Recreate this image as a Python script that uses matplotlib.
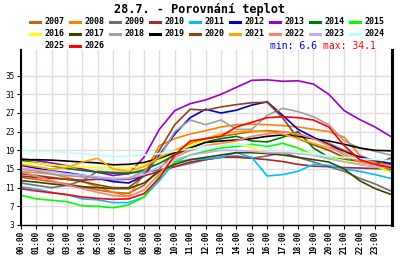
import numpy as np
import matplotlib
matplotlib.use("Agg")
import matplotlib.pyplot as plt
from matplotlib.lines import Line2D

hours = list(range(25))
tick_hours = list(range(24))
tick_labels = [f"{h:02d}:00" for h in tick_hours]
y_ticks = [3, 7, 11, 15, 19, 23, 27, 31, 35]

years = ["2007", "2008", "2009", "2010", "2011", "2012", "2013", "2014", "2015",
         "2016", "2017", "2018", "2019", "2020", "2021", "2022", "2023", "2024",
         "2025", "2026"]
colors = ["#c0651c", "#ff8000", "#707070", "#a52a2a", "#00bfff", "#0000cc",
          "#9900cc", "#007700", "#00ff00", "#ffff00", "#404000", "#a0a0a0",
          "#000000", "#8b4513", "#ffa500", "#ff7f66", "#c0a8ff", "#bbffff",
          "#ffffff", "#ff0000"]

t2007 = [13.2, 12.8, 12.3, 11.8, 11.2, 10.5, 10.0, 9.8, 11.5, 15.0, 18.5, 20.5, 21.5, 22.0, 22.5, 23.0, 23.2, 23.0, 22.5, 21.5, 20.5, 19.0, 17.5, 16.5, 16.0]
t2008 = [15.0, 14.6, 14.0, 13.2, 12.3, 11.2, 10.0, 9.2, 14.0, 20.0, 21.5, 22.5, 23.2, 24.0, 24.5, 24.6, 24.5, 24.3, 24.0, 23.5, 23.0, 21.8, 18.0, 16.5, 15.5]
t2009 = [12.0, 11.5, 11.0, 11.5, 12.5, 14.5, 14.3, 14.2, 14.3, 14.8, 15.5, 16.2, 17.0, 17.5, 17.8, 17.3, 17.8, 18.5, 17.5, 16.5, 15.5, 14.5, 13.0, 11.8, 10.3]
t2010 = [13.5, 13.2, 13.0, 12.8, 12.6, 12.8, 12.7, 12.8, 13.5, 14.5, 15.5, 16.5, 17.0, 17.5, 17.5, 17.3, 17.0, 16.6, 16.0, 15.6, 15.5, 15.3, 15.2, 15.1, 15.0]
t2011 = [11.2, 10.7, 10.0, 9.5, 8.6, 8.4, 7.8, 7.8, 9.0, 12.5, 16.5, 17.0, 17.2, 17.5, 18.5, 17.5, 13.5, 13.8, 14.5, 16.0, 15.8, 15.0, 14.5, 13.8, 13.0]
t2012 = [15.8, 15.2, 14.6, 14.2, 13.7, 13.0, 12.3, 12.0, 13.5, 18.0, 22.5, 26.0, 27.8, 27.0, 27.6, 28.7, 29.4, 26.5, 23.5, 21.8, 20.2, 18.7, 17.6, 16.8, 16.2]
t2013 = [17.2, 16.8, 16.3, 15.7, 15.0, 14.3, 13.6, 14.0, 17.5, 23.5, 27.5, 29.0, 29.8, 31.0, 32.5, 34.0, 34.1, 33.8, 33.9, 33.2, 31.0, 27.5, 25.6, 24.0, 22.0]
t2014 = [16.8, 16.3, 15.7, 15.1, 14.7, 14.3, 14.1, 14.0, 14.8, 16.2, 18.0, 19.5, 20.8, 21.5, 22.0, 21.0, 20.8, 21.8, 23.0, 19.5, 17.5, 17.0, 16.5, 15.8, 15.2]
t2015 = [9.4, 8.6, 8.3, 8.0, 7.1, 7.0, 6.7, 7.3, 9.0, 13.5, 16.5, 18.0, 18.8, 19.5, 19.8, 20.3, 19.8, 20.5, 19.5, 18.0, 17.2, 16.6, 16.0, 15.5, 14.5]
t2016 = [16.5, 16.2, 15.8, 15.6, 15.4, 15.3, 15.2, 15.2, 15.8, 17.0, 18.5, 20.0, 21.0, 20.0, 20.5, 19.5, 18.5, 18.5, 18.8, 18.3, 17.5, 16.8, 16.3, 15.8, 14.3]
t2017 = [12.5, 12.2, 11.8, 11.5, 11.2, 11.0, 10.8, 10.8, 12.0, 14.5, 16.0, 17.0, 17.5, 18.0, 18.5, 18.5, 18.3, 18.0, 17.5, 17.0, 16.5, 15.0, 12.5, 10.8, 9.6]
t2018 = [14.5, 14.2, 13.9, 13.6, 13.3, 13.0, 12.8, 13.0, 14.5, 17.5, 23.0, 25.5, 24.5, 25.5, 23.5, 23.5, 26.5, 28.0, 27.3, 26.2, 24.5, 21.0, 19.5, 18.8, 18.0]
t2019 = [17.0, 17.0, 16.9, 16.7, 16.5, 16.3, 15.9, 16.0, 16.4, 17.3, 18.5, 19.5, 20.7, 21.0, 21.2, 21.5, 22.0, 22.3, 22.0, 21.5, 21.0, 20.3, 19.5, 19.0, 18.9]
t2020 = [14.0, 13.6, 13.2, 12.8, 12.3, 11.6, 11.0, 11.0, 13.5, 19.0, 24.5, 27.8, 27.6, 28.3, 28.8, 29.2, 29.3, 26.0, 21.5, 20.2, 19.0, 17.5, 16.6, 16.0, 17.3]
t2021 = [16.0, 15.5, 15.0, 15.3, 16.5, 17.3, 15.0, 14.5, 15.5, 17.5, 19.0, 20.5, 21.5, 22.5, 23.0, 23.2, 23.0, 22.5, 21.5, 20.5, 19.5, 18.5, 17.0, 16.0, 15.5]
t2022 = [14.4, 13.5, 12.5, 11.6, 10.8, 10.0, 9.3, 9.1, 10.5, 14.0, 17.5, 19.0, 20.0, 20.5, 21.0, 22.0, 22.5, 23.0, 22.5, 21.5, 20.0, 18.0, 16.5, 16.0, 15.5]
t2023 = [15.2, 14.8, 14.5, 14.0, 13.7, 13.3, 13.0, 13.0, 13.8, 15.5, 17.0, 18.0, 18.5, 19.0, 19.0, 18.8, 18.5, 18.5, 18.3, 18.0, 17.3, 16.5, 16.0, 15.5, 15.2]
t2024 = [19.1, 18.7, 18.8, 18.5, 18.3, 18.0, 17.6, 17.8, 18.0, 18.3, 18.8, 19.3, 19.8, 20.0, 20.3, 20.0, 19.5, 19.0, 18.6, 18.2, 17.8, 17.5, 17.2, 17.0, 16.8]
t2025 = [np.nan] * 25
t2026 = [10.8, 10.3, 9.9, 9.5, 9.0, 8.7, 8.5, 8.6, 9.7, 13.0, 18.0, 21.0, 21.5, 22.0, 24.0, 25.0, 26.0, 26.2, 26.0, 25.5, 24.0, 20.0, 17.0, 16.0, 15.3]

series = [t2007, t2008, t2009, t2010, t2011, t2012, t2013, t2014, t2015, t2016,
          t2017, t2018, t2019, t2020, t2021, t2022, t2023, t2024, t2025, t2026]

MONO = "DejaVu Sans Mono"
W, H = 400, 260

fig = plt.figure(figsize=(W / 100, H / 100), dpi=100)
fig.patch.set_facecolor("white")
ax = fig.add_axes([20.7 / W, 35 / H, (392 - 20.7) / W, 175 / H])

for vals, col in zip(series, colors):
    ax.plot(hours, vals, color=col, lw=1.2, solid_joinstyle="miter")

ax.set_xlim(0, 24.1)
ax.set_ylim(3, 40.5)
ax.set_xticks(tick_hours)
ax.set_xticklabels(tick_labels, rotation=90, fontsize=5.6, fontfamily=MONO,
                   fontweight="bold")
ax.set_yticks(y_ticks)
ax.set_yticklabels([str(v) for v in y_ticks], fontsize=5.6, fontfamily=MONO)
ax.tick_params(axis="both", length=3, width=0.8, pad=1.5, color="black")
ax.grid(True, color="#e4dcdc", lw=1.0)
ax.set_axisbelow(True)
ax.spines["top"].set_visible(False)
ax.spines["left"].set_linewidth(1.5)
ax.spines["right"].set_linewidth(2.2)
ax.spines["bottom"].set_linewidth(1.0)

fig.text(200 / W, 1 - 10 / H, "28.7. - Porovnání teplot", ha="center",
         va="center", fontsize=8.6, fontweight="bold", fontfamily=MONO)

for i, (yr, col) in enumerate(zip(years, colors)):
    row, c = divmod(i, 9)
    x0 = 30 + 40 * c
    yy = 22 + 12 * row
    fig.add_artist(Line2D([x0 / W, (x0 + 10) / W], [1 - yy / H, 1 - yy / H],
                          color=col, lw=2.2, transform=fig.transFigure))
    fig.text((x0 + 14.5) / W, 1 - yy / H, yr, ha="left", va="center",
             fontsize=6, fontweight="bold", fontfamily=MONO)

fig.text(270 / W, 1 - 46 / H, "min: 6.6", ha="left", va="center",
         fontsize=7, color="#0000ff", fontfamily=MONO)
fig.text(323 / W, 1 - 46 / H, "max: 34.1", ha="left", va="center",
         fontsize=7, color="#ff0000", fontfamily=MONO)

fig.savefig("out.png", dpi=100)
